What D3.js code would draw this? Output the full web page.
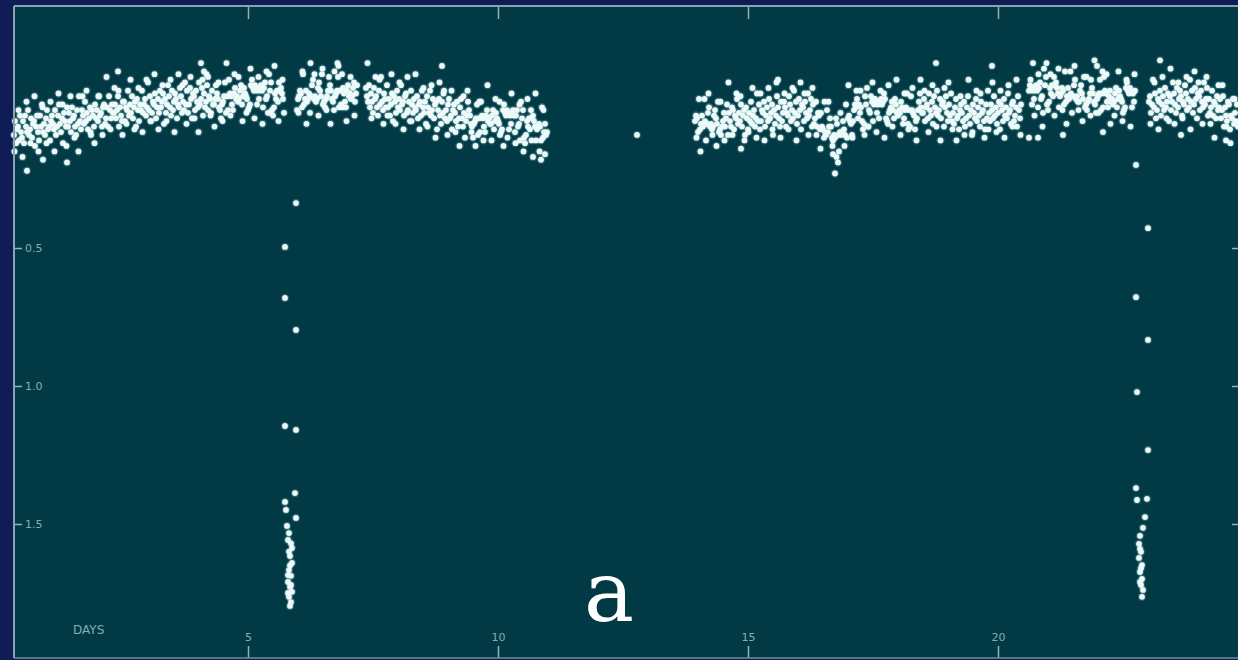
<!DOCTYPE html>
<html><head><meta charset="utf-8">
<script src="https://cdn.jsdelivr.net/npm/d3@7"></script>
<style>html,body{margin:0;padding:0;background:#0f1c56;}svg{display:block;}</style>
</head><body>
<svg id="c" width="1238" height="660"></svg>
<script>
// time in days, relative flux drop (axis units)
const seg1=[[0.32,.09],[0.34,.04],[0.36,.12],[0.38,.07],[0.40,.06],[0.42,.11],[0.44,.02],[0.46,.08],[0.48,.10],[0.50,.04],
[0.52,.12],[0.54,.02],[0.56,.06],[0.58,.08],[0.60,0],[0.62,.09],[0.64,.07],[0.66,.03],[0.68,.10],[0.70,.05],
[0.72,.04],[0.74,.13],[0.76,.06],[0.78,.02],[0.80,.08],[0.82,.11],[0.84,.02],[0.86,.06],[0.88,-.02],[0.90,.08],
[0.92,.05],[0.94,.09],[0.96,.03],[0.98,0],[1.00,.07],[1.02,.06],[1.04,.11],[1.06,.04],[1.08,.02],[1.10,.05],
[1.12,.07],[1.14,0],[1.16,.09],[1.18,.06],[1.20,.02],[1.22,-.02],[1.24,.05],[1.26,.08],[1.28,.03],[1.30,.12],
[1.32,.01],[1.34,.04],[1.36,.06],[1.38,-.01],[1.40,.06],[1.42,.01],[1.44,.04],[1.46,.08],[1.48,-.01],[1.50,.03],
[1.52,.02],[1.54,.06],[1.56,.09],[1.58,0],[1.60,.05],[1.62,-.05],[1.64,.04],[1.66,.07],[1.68,0],[1.70,.02],
[1.72,.05],[1.74,-.03],[1.76,.04],[1.78,.01],[1.80,.07],[1.82,.03],[1.84,-.01],[1.86,.09],[1.88,0],[1.90,.02],
[1.92,.06],[1.94,-.02],[1.96,.03],[1.98,0],[2.00,.04],[2.02,-.05],[2.04,.02],[2.06,.01],[2.08,.06],[2.10,-.01],
[2.12,-.02],[2.14,.05],[2.16,.03],[2.18,-.01],[2.20,.06],[2.22,-.05],[2.24,0],[2.26,.03],[2.28,-.02],[2.30,.01],
[2.32,.01],[2.34,-.02],[2.36,.03],[2.38,0],[2.40,-.05],[2.42,.06],[2.44,-.01],[2.46,.02],[2.48,.04],[2.50,-.03],
[2.52,-.03],[2.54,.04],[2.56,-.01],[2.58,0],[2.60,-.07],[2.62,.02],[2.64,-.02],[2.66,.01],[2.68,-.05],[2.70,.03],
[2.72,-.01],[2.74,-.03],[2.76,.06],[2.78,-.04],[2.80,0],[2.82,.04],[2.84,-.02],[2.86,0],[2.88,-.07],[2.90,.01],
[2.92,-.02],[2.94,-.04],[2.96,.02],[2.98,-.01],[3.00,-.10],[3.02,0],[3.04,-.05],[3.06,.04],[3.08,.01],[3.10,-.03],
[3.12,-.02],[3.14,-.06],[3.16,.03],[3.18,-.01],[3.20,-.04],[3.22,.01],[3.24,-.07],[3.26,-.01],[3.28,-.03],[3.30,-.06],
[3.32,.05],[3.34,-.04],[3.36,.01],[3.38,-.02],[3.40,-.09],[3.42,-.05],[3.44,-.01],[3.46,.02],[3.48,-.07],[3.50,0],
[3.52,-.03],[3.54,-.06],[3.56,-.04],[3.58,.03],[3.60,-.02],[3.62,-.01],[3.64,-.08],[3.66,-.05],[3.68,.01],[3.70,-.03],
[3.72,0],[3.74,-.10],[3.76,-.02],[3.78,-.07],[3.80,.01],[3.82,-.02],[3.84,-.08],[3.86,-.04],[3.88,.03],[3.90,-.06],
[3.92,-.05],[3.94,0],[3.96,-.07],[3.98,-.03],[4.00,-.01],[4.02,-.10],[4.04,-.02],[4.06,-.04],[4.08,-.08],[4.10,.02],
[4.12,-.06],[4.14,-.01],[4.16,-.03],[4.18,-.09],[4.20,0],[4.22,-.05],[4.24,-.04],[4.26,.01],[4.28,-.07],[4.30,-.02],
[4.32,-.02],[4.34,-.04],[4.36,-.09],[4.38,-.06],[4.40,-.04],[4.42,-.01],[4.44,0],[4.46,.03],[4.48,-.02],[4.50,-.03],
[4.52,-.05],[4.54,-.10],[4.56,.01],[4.58,-.05],[4.60,0],[4.62,-.11],[4.64,-.06],[4.66,-.05],[4.68,-.02],[4.70,0],
[4.72,-.06],[4.74,-.08],[4.76,-.04],[4.78,-.05],[4.80,-.03],[4.82,-.04],[4.84,-.07],[4.86,-.09],[4.88,-.02],[4.90,-.05],
[4.92,-.08],[4.94,-.06],[4.96,-.05],[4.98,-.04],[5.00,0],[5.02,-.01],[5.04,-.02],[5.06,-.09],[5.08,-.11],[5.10,-.08],
[5.12,-.07],[5.14,-.09],[5.16,-.08],[5.18,-.02],[5.20,-.07],[5.22,-.04],[5.24,-.08],[5.26,-.09],[5.28,-.07],[5.30,-.01],
[5.32,-.08],[5.34,-.10],[5.36,-.04],[5.38,-.05],[5.40,.01],[5.42,-.13],[5.44,-.07],[5.46,-.10],[5.48,0],[5.50,.02],
[5.52,-.01],[5.54,-.06],[5.56,-.04],[5.58,-.07],[5.60,-.03],[5.62,-.10],[5.64,-.07],[5.66,-.08],[5.68,-.06],[5.70,-.04],
[5.72,.01]];
const seg2=[[5.98,0],[6.00,-.04],[6.02,-.05],[6.04,-.07],[6.06,-.06],[6.08,-.01],[6.10,-.13],[6.12,-.02],[6.14,-.04],[6.16,-.07],
[6.18,-.03],[6.20,-.04],[6.22,-.06],[6.24,.01],[6.26,-.05],[6.28,-.09],[6.30,-.11],[6.32,-.04],[6.34,-.05],[6.36,-.03],
[6.38,-.04],[6.40,-.08],[6.42,-.10],[6.44,-.07],[6.46,-.05],[6.48,-.13],[6.50,-.02],[6.52,-.03],[6.54,-.01],[6.56,-.04],
[6.58,-.05],[6.60,-.07],[6.62,-.12],[6.64,-.09],[6.66,-.07],[6.68,-.04],[6.70,-.03],[6.72,0],[6.74,-.05],[6.76,-.06],
[6.78,-.07],[6.80,-.12],[6.82,-.01],[6.84,-.07],[6.86,-.02],[6.88,-.13],[6.90,-.08],[6.92,-.06],[6.94,-.03],[6.96,-.01],
[6.98,-.07],[7.00,-.09],[7.02,-.05],[7.04,-.06],[7.06,-.04],[7.08,-.05],[7.10,-.08],[7.12,-.10],[7.14,-.03],[7.16,-.06],
[7.18,-.09]];
const seg3=[[7.36,-.08],[7.38,-.05],[7.40,-.03],[7.42,-.09],[7.44,-.01],[7.46,-.06],[7.48,-.03],[7.50,.01],[7.52,-.08],[7.54,-.04],
[7.56,-.05],[7.58,-.01],[7.60,.02],[7.62,-.07],[7.64,-.02],[7.66,-.12],[7.68,-.03],[7.70,0],[7.72,-.06],[7.74,-.04],
[7.76,-.01],[7.78,-.09],[7.80,-.01],[7.82,-.04],[7.84,.02],[7.86,-.02],[7.88,-.06],[7.90,.04],[7.92,-.05],[7.94,-.03],
[7.96,.01],[7.98,-.07],[8.00,-.01],[8.02,-.04],[8.04,0],[8.06,-.09],[8.08,-.02],[8.10,-.03],[8.12,.02],[8.14,-.05],
[8.16,-.06],[8.18,.01],[8.20,0],[8.22,-.03],[8.24,.04],[8.26,-.07],[8.28,-.02],[8.30,.01],[8.32,-.04],[8.34,-.01],
[8.36,0],[8.38,-.05],[8.40,.03],[8.42,-.02],[8.44,-.03],[8.46,.02],[8.48,-.07],[8.50,-.01],[8.52,.01],[8.54,-.03],
[8.56,.05],[8.58,-.05],[8.60,-.01],[8.62,.01],[8.64,-.07],[8.66,.02],[8.68,0],[8.70,-.04],[8.72,.03],[8.74,-.02],
[8.76,-.03],[8.78,.07],[8.80,0],[8.82,-.04],[8.84,.02],[8.86,.05],[8.88,-.03],[8.90,.01],[8.92,-.07],[8.94,.03],
[8.96,0],[8.98,.04],[9.00,-.02],[9.02,-.04],[9.04,.03],[9.06,.02],[9.08,.07],[9.10,0],[9.12,-.02],[9.14,.01],
[9.16,.04],[9.18,-.03],[9.20,.06],[9.22,.03],[9.24,-.01],[9.26,-.04],[9.28,.03],[9.30,.06],[9.32,.01],[9.34,.10],
[9.36,.04],[9.38,.02],[9.40,-.03],[9.42,0],[9.44,.02],[9.46,.05],[9.48,.06],[9.50,.10],[9.52,.05],[9.54,.04],
[9.56,.03],[9.58,-.02],[9.60,.09],[9.62,.03],[9.64,.08],[9.66,-.03],[9.68,.02],[9.70,.03],[9.72,.06],[9.74,.08],
[9.76,.02],[9.78,0],[9.80,.04],[9.82,.03],[9.84,.05],[9.86,.05],[9.88,.02],[9.90,0],[9.92,.07],[9.94,.04],
[9.96,.01],[9.98,.03],[10.00,.04],[10.02,.05],[10.04,.09],[10.06,.08],[10.08,.07],[10.10,0],[10.12,-.02],[10.14,.01],
[10.16,.02],[10.18,0],[10.20,.01],[10.22,.07],[10.24,.02],[10.26,.05],[10.28,.01],[10.30,0],[10.32,.02],[10.34,.08],
[10.36,.02],[10.38,0],[10.40,.06],[10.42,.05],[10.44,.11],[10.46,-.03],[10.48,.03],[10.50,0],[10.52,.10],[10.54,.12],
[10.56,.09],[10.58,.04],[10.60,.06],[10.62,.03],[10.64,.07],[10.66,0],[10.68,.03],[10.70,.02],[10.72,.04],[10.74,.06],
[10.76,.11],[10.78,.07],[10.80,.06],[10.82,.05],[10.84,.06],[10.86,.11],[10.88,-.01],[10.90,.10],[10.92,.08],[10.94,.05],
[10.96,.09],[10.98,.08]];
const lone=[[12.78,.09]];
const seg4=[[13.94,.04],[13.96,.02],[13.98,.03],[14.00,.08],[14.02,-.04],[14.04,.07],[14.06,.05],[14.08,.02],[14.10,.06],[14.12,.05],
[14.14,.04],[14.16,.11],[14.18,.05],[14.20,.01],[14.22,-.01],[14.24,.06],[14.26,.05],[14.28,.07],[14.30,.06],[14.32,.02],
[14.34,0],[14.36,.03],[14.38,.05],[14.40,-.03],[14.42,.08],[14.44,.07],[14.46,.09],[14.48,.06],[14.50,.04],[14.52,.01],
[14.54,.06],[14.56,.03],[14.58,-.02],[14.60,.09],[14.62,.01],[14.64,.04],[14.66,.06],[14.68,-.01],[14.70,0],[14.72,.07],
[14.74,.02],[14.76,.03],[14.78,-.04],[14.80,.05],[14.82,.01],[14.84,.04],[14.86,-.02],[14.88,.06],[14.90,.02],[14.92,0],
[14.94,.09],[14.96,-.01],[14.98,.03],[15.00,.07],[15.02,.01],[15.04,.04],[15.06,-.03],[15.08,.05],[15.10,.02],[15.12,0],
[15.14,.06],[15.16,.03],[15.18,-.06],[15.20,.04],[15.22,-.02],[15.24,.07],[15.26,.04],[15.28,0],[15.30,.01],[15.32,-.03],
[15.34,.06],[15.36,.02],[15.38,-.01],[15.40,.04],[15.42,-.04],[15.44,.03],[15.46,.01],[15.48,-.02],[15.50,.09],[15.52,0],
[15.54,.05],[15.56,.02],[15.58,-.05],[15.60,-.01],[15.62,.03],[15.64,.06],[15.66,-.03],[15.68,.04],[15.70,.01],[15.72,-.03],
[15.74,-.01],[15.76,.06],[15.78,.01],[15.80,.02],[15.82,-.05],[15.84,-.02],[15.86,.04],[15.88,0],[15.90,.03],[15.92,-.07],
[15.94,.01],[15.96,-.03],[15.98,.05],[16.00,.02],[16.02,-.04],[16.04,0],[16.06,.07],[16.08,-.02],[16.10,-.01],[16.12,.04],
[16.14,-.03],[16.16,.01],[16.18,.03],[16.20,-.06],[16.22,.02],[16.24,0],[16.26,-.04],[16.28,.06],[16.30,-.02],[16.32,.05],
[16.34,.03],[16.36,-.03],[16.38,.06],[16.40,.01],[16.42,.02],[16.44,.07],[16.46,.01],[16.48,.06],[16.50,.07],[16.52,.10],
[16.54,.08],[16.56,.09],[16.58,0],[16.60,.08],[16.62,.06],[16.64,.03],[16.66,.06],[16.68,.10],[16.70,.11],[16.72,.09],
[16.74,.10],[16.76,.03],[16.78,.05],[16.80,.09],[16.82,.15],[16.84,.08],[16.86,.09],[16.88,.08],[16.90,.04],[16.92,.07],
[16.94,.09],[16.96,-.02],[16.98,.10],[17.00,.03],[17.02,.02],[17.04,.04],[17.06,.05],[17.08,.09],[17.10,.04],[17.12,0],
[17.14,-.02],[17.16,-.01],[17.18,-.04],[17.20,.03],[17.22,-.02],[17.24,.01],[17.26,-.01],[17.28,.04],[17.30,.07],[17.32,.05],
[17.34,-.05],[17.36,-.02],[17.38,-.08],[17.40,.06],[17.42,0],[17.44,.01],[17.46,-.05],[17.48,-.03],[17.50,.04],[17.52,-.02],
[17.54,-.04],[17.56,-.03],[17.58,.01],[17.60,-.02],[17.62,.03],[17.64,-.03],[17.66,-.04],[17.68,-.02],[17.70,-.03],[17.72,-.06],
[17.74,-.04],[17.76,.03],[17.78,.04],[17.80,.05],[17.82,.01],[17.84,0],[17.86,-.01],[17.88,-.03],[17.90,0],[17.92,.03],
[17.94,-.04],[17.96,-.02],[17.98,.01],[18.00,.02],[18.02,0],[18.04,.01],[18.06,-.03],[18.08,-.01],[18.10,.05],[18.12,.03],
[18.14,0],[18.16,-.01],[18.18,-.06],[18.20,.05],[18.22,0],[18.24,.06],[18.26,-.05],[18.28,0],[18.30,.01],[18.32,.02],
[18.34,.07],[18.36,.04],[18.38,.03],[18.40,0],[18.42,-.03],[18.44,-.06],[18.46,-.01],[18.48,.01],[18.50,.01],[18.52,-.04],
[18.54,.04],[18.56,-.01],[18.58,-.02],[18.60,.03],[18.62,-.06],[18.64,0],[18.66,.02],[18.68,-.03],[18.70,.05],[18.72,-.05],
[18.74,-.01],[18.76,.01],[18.78,-.07],[18.80,.02],[18.82,0],[18.84,-.04],[18.86,.03],[18.88,-.02],[18.90,-.03],[18.92,.06],
[18.94,-.01],[18.96,-.05],[18.98,.01],[19.00,.04],[19.02,-.02],[19.04,.02],[19.06,-.06],[19.08,.04],[19.10,.01],[19.12,.05],
[19.14,-.01],[19.16,-.04],[19.18,.03],[19.20,.02],[19.22,.07],[19.24,0],[19.26,-.02],[19.28,.01],[19.30,.04],[19.32,-.03],
[19.34,.06],[19.36,.03],[19.38,-.01],[19.40,-.05],[19.42,.02],[19.44,.05],[19.46,0],[19.48,.09],[19.50,-.02],[19.52,.01],
[19.54,.03],[19.56,-.04],[19.58,.04],[19.60,-.01],[19.62,.02],[19.64,.06],[19.66,-.03],[19.68,.01],[19.70,0],[19.72,.04],
[19.74,.07],[19.76,-.02],[19.78,.03],[19.80,-.07],[19.82,.01],[19.84,.04],[19.86,-.02],[19.88,0],[19.90,.03],[19.92,-.05],
[19.94,.02],[19.96,-.01],[19.98,.05],[20.00,.01],[20.02,-.03],[20.04,.07],[20.06,-.02],[20.08,0],[20.10,.04],[20.12,-.04],
[20.14,.02],[20.16,-.01],[20.18,.03],[20.20,-.06],[20.22,.01],[20.24,0],[20.26,.05],[20.28,-.02],[20.30,-.03],[20.32,.04],
[20.34,.02],[20.36,-.01],[20.38,.06],[20.40,-.05],[20.42,0],[20.44,.03],[20.46,-.02]];
const seg5=[[20.62,-.07],[20.64,-.09],[20.66,-.08],[20.68,-.02],[20.70,-.07],[20.72,-.04],[20.74,-.08],[20.76,-.09],[20.78,-.07],[20.80,-.01],
[20.82,-.08],[20.84,-.10],[20.86,-.04],[20.88,-.05],[20.90,.01],[20.92,-.15],[20.94,-.09],[20.96,-.12],[20.98,-.02],[21.00,0],
[21.02,-.03],[21.04,-.08],[21.06,-.06],[21.08,-.09],[21.10,-.05],[21.12,-.12],[21.14,-.09],[21.16,-.10],[21.18,-.08],[21.20,-.06],
[21.22,-.01],[21.24,-.05],[21.26,-.06],[21.28,-.08],[21.30,-.07],[21.32,-.02],[21.34,-.14],[21.36,-.03],[21.38,-.05],[21.40,-.08],
[21.42,-.04],[21.44,-.05],[21.46,-.06],[21.48,.01],[21.50,-.05],[21.52,-.09],[21.54,-.11],[21.56,-.04],[21.58,-.05],[21.60,-.03],
[21.62,-.03],[21.64,-.07],[21.66,-.09],[21.68,-.06],[21.70,-.04],[21.72,-.12],[21.74,-.01],[21.76,-.02],[21.78,0],[21.80,-.03],
[21.82,-.04],[21.84,-.06],[21.86,-.11],[21.88,-.08],[21.90,-.06],[21.92,-.03],[21.94,-.02],[21.96,.01],[21.98,-.04],[22.00,-.05],
[22.02,-.06],[22.04,-.11],[22.06,0],[22.08,-.06],[22.10,-.01],[22.12,-.12],[22.14,-.07],[22.16,-.06],[22.18,-.03],[22.20,-.01],
[22.22,-.05],[22.24,-.07],[22.26,-.03],[22.28,-.04],[22.30,-.02],[22.32,-.03],[22.34,-.06],[22.36,-.08],[22.38,-.01],[22.40,-.04],
[22.42,-.07],[22.44,-.05],[22.46,-.04],[22.48,-.03],[22.50,.01],[22.52,0],[22.54,-.01],[22.56,-.08],[22.58,-.10],[22.60,-.07],
[22.62,-.06],[22.64,-.08],[22.66,-.07],[22.68,-.01],[22.70,-.06],[22.72,-.03],[22.74,-.07]];
const seg6=[[23.02,-.03],[23.04,-.05],[23.06,.01],[23.08,-.02],[23.10,-.11],[23.12,-.01],[23.14,-.06],[23.16,.03],[23.18,0],[23.20,-.04],
[23.22,-.03],[23.24,-.07],[23.26,.02],[23.28,-.02],[23.30,-.05],[23.32,0],[23.34,-.08],[23.36,-.01],[23.38,-.03],[23.40,-.06],
[23.42,.04],[23.44,-.05],[23.46,0],[23.48,-.03],[23.50,-.10],[23.52,-.06],[23.54,-.02],[23.56,.01],[23.58,-.08],[23.60,-.01],
[23.62,-.04],[23.64,-.07],[23.66,-.05],[23.68,.02],[23.70,-.03],[23.72,-.02],[23.74,-.09],[23.76,-.06],[23.78,0],[23.80,-.04],
[23.82,-.01],[23.84,-.11],[23.86,-.03],[23.88,-.07],[23.90,.01],[23.92,-.02],[23.94,-.08],[23.96,-.04],[23.98,.03],[24.00,-.06],
[24.02,-.05],[24.04,0],[24.06,-.07],[24.08,-.03],[24.10,-.01],[24.12,-.10],[24.14,-.02],[24.16,-.04],[24.18,-.08],[24.20,.02],
[24.22,-.04],[24.24,.01],[24.26,-.01],[24.28,-.07],[24.30,.02],[24.32,-.03],[24.34,-.02],[24.36,.03],[24.38,-.05],[24.40,0],
[24.42,-.01],[24.44,-.04],[24.46,.03],[24.48,0],[24.50,-.05],[24.52,.06],[24.54,-.01],[24.56,.02],[24.58,.04],[24.60,-.03],
[24.62,-.02],[24.64,.07],[24.66,.02],[24.68,.03],[24.70,-.04],[24.72,.05],[24.74,.01],[24.76,.04],[24.78,-.02],[24.80,.06]];
// looser points at the edges of the band
const scatter=[[0.33,.15],[0.41,0],[0.49,.17],[0.57,-.03],[0.65,.12],[0.73,-.05],[0.81,.15],[0.89,-.01],[0.97,.12],[1.05,-.03],
[1.13,.15],[1.21,-.06],[1.29,-.02],[1.37,.13],[1.45,-.05],[1.53,.10],[1.61,.15],[1.69,-.05],[1.77,-.07],[1.85,.08],
[1.93,.12],[2.01,-.05],[2.09,.09],[2.17,-.12],[2.25,.07],[2.33,-.08],[2.41,-.07],[2.49,.09],[2.57,.05],[2.65,-.11],
[2.73,.07],[2.81,-.08],[2.89,.08],[2.97,-.11],[3.05,.04],[3.13,-.13],[3.21,.07],[3.29,-.09],[3.37,.04],[3.45,-.11],
[3.53,.08],[3.61,-.13],[3.69,-.09],[3.77,.05],[3.85,-.12],[3.93,.03],[4.01,.08],[4.09,-.11],[4.17,-.13],[4.25,.02],
[4.33,.06],[4.41,-.10],[4.49,.04],[4.57,-.17],[4.65,.02],[4.73,-.13],[4.81,-.12],[4.89,.04],[4.97,.01],[5.05,-.15],
[5.13,.03],[5.21,-.12],[5.29,.05],[5.37,-.14],[5.45,.01],[5.53,-.16],[5.61,.04],[5.69,-.11],
[6.01,.01],[6.09,-.14],[6.17,.05],[6.25,-.17],[6.33,-.13],[6.41,.02],[6.49,-.15],[6.57,0],[6.65,.05],[6.73,-.14],
[6.81,-.16],[6.89,-.01],[6.97,.04],[7.05,-.12],[7.13,.02],
[7.39,-.17],[7.47,.03],[7.55,-.12],[7.63,-.11],[7.71,.05],[7.79,.02],[7.87,-.13],[7.95,.05],[8.03,-.10],[8.11,.07],
[8.19,-.12],[8.27,.04],[8.35,-.13],[8.43,.07],[8.51,-.08],[8.59,.06],[8.67,-.09],[8.75,.10],[8.83,-.10],[8.91,-.06],
[8.99,.09],[9.07,-.07],[9.15,.08],[9.23,.13],[9.31,-.05],[9.39,-.07],[9.47,.08],[9.55,.13],[9.63,-.03],[9.71,.11],
[9.79,-.09],[9.87,.11],[9.95,-.04],[10.03,-.03],[10.11,.13],[10.19,.10],[10.27,-.06],[10.35,.12],[10.43,-.02],[10.51,.15],
[10.59,-.04],[10.67,.11],[10.75,-.06],[10.83,.15],[10.91,0],
[13.97,.10],[14.05,.15],[14.13,-.04],[14.21,-.06],[14.29,.09],[14.37,.13],[14.45,-.03],[14.53,.11],[14.61,-.10],[14.69,.09],
[14.77,-.06],[14.85,-.05],[14.93,.11],[15.01,.08],[15.09,-.08],[15.17,.10],[15.25,-.06],[15.33,.11],[15.41,-.08],[15.49,.07],
[15.57,-.10],[15.65,.10],[15.73,-.06],[15.81,.07],[15.89,-.08],[15.97,.11],[16.05,-.10],[16.13,-.06],[16.21,.09],[16.29,-.08],
[16.37,.09],[16.45,.14],[16.53,-.03],[16.61,-.03],[16.69,.13],[16.77,.17],[16.85,.01],[16.93,.13],[17.01,-.09],[17.09,.10],
[17.17,-.07],[17.25,-.07],[17.33,.09],[17.41,.06],[17.49,-.10],[17.57,.08],[17.65,-.07],[17.73,.10],[17.81,-.09],[17.89,.06],
[17.97,-.11],[18.05,.09],[18.13,-.06],[18.21,.07],[18.29,-.08],[18.37,.11],[18.45,-.11],[18.53,-.07],[18.61,.08],[18.69,-.09],
[18.77,.06],[18.85,.11],[18.93,-.08],[19.01,-.10],[19.09,.07],[19.17,.11],[19.25,-.05],[19.33,.09],[19.41,-.11],[19.49,.08],
[19.57,-.07],[19.65,-.06],[19.73,.10],[19.81,.07],[19.89,-.10],[19.97,.08],[20.05,-.07],[20.13,.10],[20.21,-.09],[20.29,.06],
[20.37,-.11],[20.45,.09],
[20.65,-.11],[20.73,.02],[20.81,-.13],[20.89,.06],[20.97,-.17],[21.05,-.13],[21.13,.02],[21.21,-.15],[21.29,0],[21.37,.05],
[21.45,-.14],[21.53,-.16],[21.61,0],[21.69,.04],[21.77,-.12],[21.85,.02],[21.93,-.18],[22.01,.01],[22.09,-.14],[22.17,-.13],
[22.25,.05],[22.33,.02],[22.41,-.14],[22.49,.04],[22.57,-.11],[22.65,.06],[22.73,-.13],
[23.05,.05],[23.13,-.10],[23.21,.07],[23.29,-.12],[23.37,.03],[23.45,-.15],[23.53,.05],[23.61,-.10],[23.69,.03],[23.77,-.12],
[23.85,.07],[23.93,-.14],[24.01,-.10],[24.09,.05],[24.17,-.12],[24.25,.05],[24.33,.10],[24.41,-.09],[24.49,-.09],[24.57,.06],
[24.65,.12],[24.73,-.04]];
const outliers=[[0.58,.22],[1.38,.19],[0.90,.18],[2.40,-.14],[4.06,-.17],[4.12,-.14],[4.20,-.12],[6.79,-.17],[8.88,-.16],
[10.70,.17],[10.86,.18],[10.94,.16],[14.86,.14],[15.60,-.11],[16.70,.16],[16.74,.23],[16.80,.19],[18.76,-.17],[19.88,-.16],
[20.62,.10],[20.80,.10],[21.30,.09],[22.10,.08],[20.70,-.17],[21.98,-.16],[23.24,-.18],[23.66,.09],[24.56,.11]];
const transit1=[[5.96,.337],[5.74,.496],[5.74,.681],[5.96,.797],[5.74,1.145],[5.96,1.159],[5.94,1.388],[5.74,1.42],[5.76,1.449],
[5.96,1.478],[5.78,1.507],[5.82,1.533],[5.80,1.558],[5.88,1.587],[5.84,1.616],[5.88,1.641],[5.82,1.667],[5.86,1.688],[5.80,1.71],
[5.84,1.728],[5.88,1.746],[5.82,1.764],[5.86,1.783],[5.84,1.797],[5.80,1.685],[5.86,1.721],[5.84,1.65],[5.82,1.6],[5.86,1.57],[5.80,1.75]];
const transit2=[[22.76,.199],[23.00,.428],[22.76,.678],[23.00,.833],[22.78,1.022],[23.00,1.232],[22.76,1.37],[22.78,1.413],[22.98,1.409],
[22.94,1.475],[22.90,1.514],[22.84,1.543],[22.82,1.572],[22.86,1.601],[22.82,1.623],[22.88,1.649],[22.84,1.674],[22.88,1.699],
[22.86,1.721],[22.90,1.739],[22.88,1.764],[22.84,1.59],[22.86,1.66],[22.84,1.71]];
const xTicks=[5,10,15,20];
const yTicks=[0.5,1.0,1.5];
const axisTitle="DAYS";
const panelLabel="a";

const svg=d3.select("#c");
const L=14,R=1238,T=6,B=658;
const x=d3.scaleLinear().domain([0.32,24.8]).range([L,R]);
const y=d3.scaleLinear().domain([-0.377,1.982]).range([T,657]);

svg.append("rect").attr("x",0).attr("y",0).attr("width",1238).attr("height",660).attr("fill","#0f1c56");
svg.append("rect").attr("x",L).attr("y",T).attr("width",R-L+4).attr("height",B-T).attr("fill","#013a45");

const all=[].concat(seg1,seg2,seg3,lone,seg4,seg5,seg6,scatter,outliers,transit1,transit2);
const g=svg.append("g");
g.selectAll("circle.h").data(all).join("circle").attr("class","h")
 .attr("cx",d=>x(d[0])).attr("cy",d=>y(d[1])).attr("r",4.2)
 .attr("fill","#8fd3d8").attr("fill-opacity",0.25);
g.selectAll("circle.p").data(all).join("circle").attr("class","p")
 .attr("cx",d=>x(d[0])).attr("cy",d=>y(d[1])).attr("r",2.9)
 .attr("fill","#eefafa");

const tickCol="#93b3b8", labCol="#86aeb3";
function style(sel){sel.select(".domain").remove();sel.selectAll("line").attr("stroke",tickCol).attr("stroke-width",1.5);
 sel.selectAll("text").attr("fill",labCol).style("font-family","DejaVu Sans, sans-serif").style("font-size","11px");}
svg.append("g").attr("transform",`translate(${L},0)`).call(d3.axisRight(y).tickValues(yTicks).tickSize(8).tickPadding(3).tickFormat(d3.format(".1f"))).call(style);
svg.append("g").attr("transform",`translate(${R},0)`).call(d3.axisLeft(y).tickValues(yTicks).tickSize(6).tickFormat("")).call(style);
svg.append("g").attr("transform",`translate(0,${T})`).call(d3.axisBottom(x).tickValues(xTicks).tickSize(13).tickFormat("")).call(style);
svg.append("g").attr("transform",`translate(0,${B})`).call(d3.axisTop(x).tickValues(xTicks).tickSize(12).tickPadding(5).tickFormat(d3.format("d"))).call(style);

svg.append("line").attr("x1",L).attr("x2",L).attr("y1",T).attr("y2",B).attr("stroke","#8aa3ad").attr("stroke-width",2);
svg.append("line").attr("x1",L).attr("x2",R).attr("y1",T).attr("y2",T).attr("stroke","#8aa3ad").attr("stroke-width",2);
svg.append("line").attr("x1",L).attr("x2",R).attr("y1",B).attr("y2",B).attr("stroke","#6f8f98").attr("stroke-width",1.5);

svg.append("text").attr("x",73).attr("y",634).text(axisTitle).attr("fill",labCol)
 .style("font-family","DejaVu Sans, sans-serif").style("font-size","12px");
svg.append("text").attr("x",609).attr("y",621).attr("text-anchor","middle").text(panelLabel).attr("fill","#ffffff")
 .style("font-family","DejaVu Serif, serif").style("font-size","84px");
</script>
</body></html>
